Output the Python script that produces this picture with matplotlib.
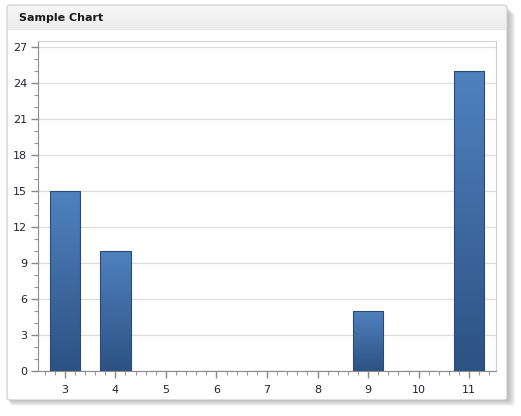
import numpy as np
import matplotlib
matplotlib.use("Agg")
import matplotlib.pyplot as plt
from matplotlib.patches import FancyBboxPatch
from matplotlib.colors import LinearSegmentedColormap

categories = [3, 4, 5, 6, 7, 8, 9, 10, 11]
values = [15, 10, 0, 0, 0, 0, 5, 0, 25]
title = "Sample Chart"

plt.rcParams['font.family'] = ['DejaVu Sans']

W, H = 521, 416
fig = plt.figure(figsize=(W / 100, H / 100), dpi=100)
fig.patch.set_facecolor("white")

def fx(px): return px / W
def fy(py): return 1 - py / H

# soft shadow, offset down-right
for off in range(6, 0, -1):
    sh = FancyBboxPatch((fx(7 + off * 0.6), fy(400 + off)), fx(501 + off * 0.6), (395 - off * 0.4) / H,
                        boxstyle="round,pad=0,rounding_size=0.008",
                        transform=fig.transFigure, fc="black", ec="none", alpha=0.045, zorder=0)
    fig.patches.append(sh)
panel = FancyBboxPatch((fx(7), fy(400)), fx(500), (395) / H,
                       boxstyle="round,pad=0,rounding_size=0.006",
                       transform=fig.transFigure, fc="white", ec="#c8c8c8", lw=0.8, zorder=1)
fig.patches.append(panel)

# title bar
tb = fig.add_axes([fx(8), fy(30), fx(498), 24 / H], zorder=2)
tb.imshow(np.linspace(0, 1, 50).reshape(-1, 1), aspect="auto",
          cmap=LinearSegmentedColormap.from_list("tb", ["#f6f6f6", "#ececec"]),
          extent=[0, 1, 0, 1])
tb.axhline(0.0, color="#d4d4d4", lw=1)
tb.set_xlim(0, 1); tb.set_ylim(0, 1)
tb.axis("off")
fig.text(fx(19), fy(18), title, fontsize=8, fontweight="bold", color="#1a1a1a",
         va="center", ha="left", zorder=3)

# chart area
x0, x1, y0, y1 = 38, 496, 41, 371
ax = fig.add_axes([fx(x0), fy(y1), fx(x1 - x0), (y1 - y0) / H], zorder=2)

ax.set_yticks(np.arange(0, 28, 3))
ax.set_yticks(np.arange(0, 28, 1), minor=True)
ax.set_xticks(categories)
ax.set_xticks(np.arange(2.6, 11.5, 0.2), minor=True)
ax.set_xticklabels([str(c) for c in categories])
ax.tick_params(axis="both", which="major", labelsize=8, colors="#888888",
               labelcolor="#222233", length=5, width=1)
ax.tick_params(axis="both", which="minor", colors="#999999", length=3, width=0.8)
ax.tick_params(axis="x", which="major", pad=5)
ax.tick_params(axis="y", which="major", pad=3)

ax.grid(axis="y", which="major", color="#dcdcdc", lw=0.9)
ax.set_axisbelow(True)
for s in ["left", "bottom"]:
    ax.spines[s].set_color("#8c8c8c")
for s in ["top", "right"]:
    ax.spines[s].set_color("#d0d0d0")

grad = LinearSegmentedColormap.from_list("bar", ["#2d5283", "#4f81be"])
bars = ax.bar(categories, values, width=0.6, color="none", edgecolor="#2a4a78",
              linewidth=0.8, zorder=3)
for b, v in zip(bars, values):
    if v <= 0:
        continue
    bx, by = b.get_x(), b.get_y()
    im = ax.imshow(np.linspace(0, 1, 100).reshape(-1, 1), cmap=grad, origin="lower",
                   aspect="auto", extent=[bx, bx + b.get_width(), by, by + b.get_height()],
                   zorder=2.5)
    im.set_clip_path(b)
ax.set_xlim(2.47, 11.53)
ax.set_ylim(0, 27.5)

fig.savefig("out.png", dpi=100)
